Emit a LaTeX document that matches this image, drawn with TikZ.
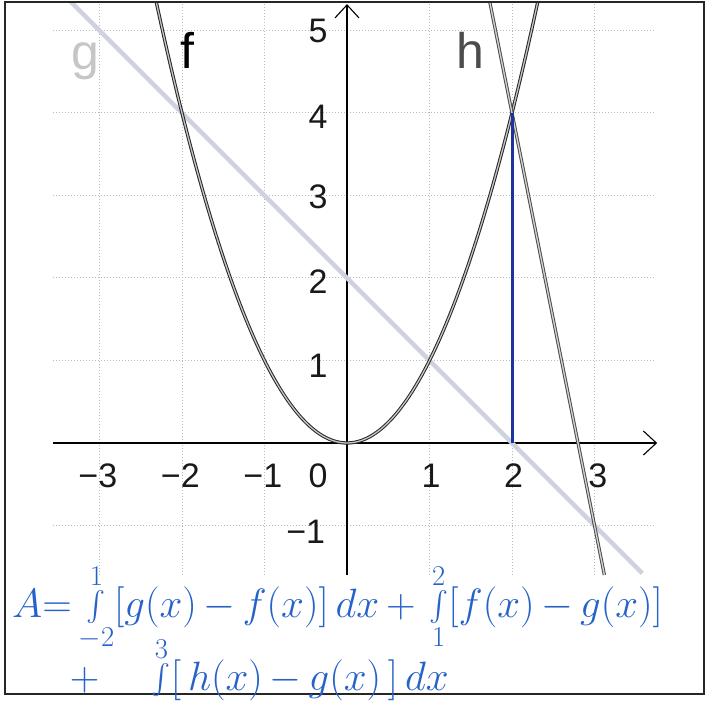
\RequirePackage{fix-cm}
\documentclass[tikz,border=0pt]{standalone}
\usepackage{amsmath}
\usepackage[no-math]{fontspec}
\setmainfont{Liberation Sans}
\usetikzlibrary{arrows.meta}
\definecolor{hand}{RGB}{38,98,200}
\definecolor{vline}{RGB}{28,52,160}
\definecolor{gcol}{RGB}{206,210,222}
\newcommand\myint{\mathop{\vcenter{\hbox{\scalebox{1.15}[1.2]{$\int$}}}}\limits}
\begin{document}
\begin{tikzpicture}[x=82.5pt,y=82.5pt,
  gridline/.style={gray!55, dotted, line width=1pt},
  axisline/.style={black, line width=1.1pt, -{Straight Barb[length=13pt,width=24pt,line width=1.1pt]}},
  framebox/.style={draw=black!85, line width=1.4pt},
  fcurve/.style={draw=black!85, double=gray!45, double distance=1.3pt, line width=1pt},
  hcurve/.style={draw=black!70, double=gray!35, double distance=1.3pt, line width=1pt},
  gcurve/.style={draw=gcol, line width=4.5pt},
  blueline/.style={draw=vline, line width=3pt},
  num/.style={font=\fontsize{34}{40}\selectfont, inner sep=0pt, text=black!90},
  fname/.style={font=\fontsize{50}{58}\selectfont, inner sep=0pt, anchor=base west},
  handtext/.style={font=\fontsize{41}{48}\selectfont, text=hand, inner sep=0pt, anchor=base west}
]
\useasboundingbox (-4.2061,-3.2) rectangle (4.4242,5.3697);
% grid
\foreach \gx in {-3,-2,-1,1,2,3} \draw[gridline] (\gx,-1.6) -- (\gx,5.36);
\foreach \gy in {-1,1,2,3,4,5} \draw[gridline] (-3.56,\gy) -- (3.73,\gy);
% axes
\coordinate (xs) at (-3.56,0);
\coordinate (xe) at (3.76,0);
\coordinate (ys) at (0,-1.6);
\coordinate (ye) at (0,5.32);
\draw[axisline] (xs) -- (xe);
\draw[axisline] (ys) -- (ye);
% curves
\begin{scope}
\clip (-4.145,-3.042) rectangle (4.327,5.345);
\draw[gcurve] (-3.4,5.4) -- (3.58,-1.58);
\draw[fcurve] plot[domain=-2.33:2.33, samples=120, smooth] (\x,{\x*\x});
\draw[hcurve] (1.72,5.4) -- (3.12,-1.6);
\end{scope}
\coordinate (p0) at (2,0);
\coordinate (p4) at (2,4);
\draw[blueline] (p0) -- (p4);
% frame
\draw[framebox] (-4.145,-3.042) rectangle (4.327,5.345);
% tick labels
\node[num] (xlm3) at (-3.02,-0.4) {−3};
\node[num] (xlm2) at (-2.02,-0.4) {−2};
\node[num] (xlm1) at (-1.02,-0.4) {−1};
\node[num] (xl0) at (-0.35,-0.4) {0};
\node[num] (xl1) at (1.02,-0.4) {1};
\node[num] (xl2) at (2.02,-0.4) {2};
\node[num] (xl3) at (3.04,-0.4) {3};
\node[num] (yl5) at (-0.35,5.0) {5};
\node[num] (yl4) at (-0.35,3.95) {4};
\node[num] (yl3) at (-0.35,2.98) {3};
\node[num] (yl2) at (-0.35,1.95) {2};
\node[num] (yl1) at (-0.35,0.93) {1};
\node[num] (ylm1) at (-0.5,-1.08) {−1};
% function names
\node[fname, text=gray!45] (gname) at (-3.34,4.53) {g};
\node[fname, text=black] (fname) at (-2.02,4.545) {f};
\node[fname, text=black!70] (hname) at (1.32,4.545) {h};
% handwriting
\node[handtext] (line1) at (-4.06,-2.11)
  {$A{=}\myint_{-2}^{1}[g(x)\,{-}\,f(x)]\,dx\,{+}\,\myint_{1}^{2}[f(x)\,{-}\,g(x)]$};
\node[handtext] (line2) at (-3.36,-3.0)
  {${+}\;\;\;\;\myint^{3}[\,h(x)\,{-}\,g(x)\,]\,dx$};
\end{tikzpicture}
\end{document}
